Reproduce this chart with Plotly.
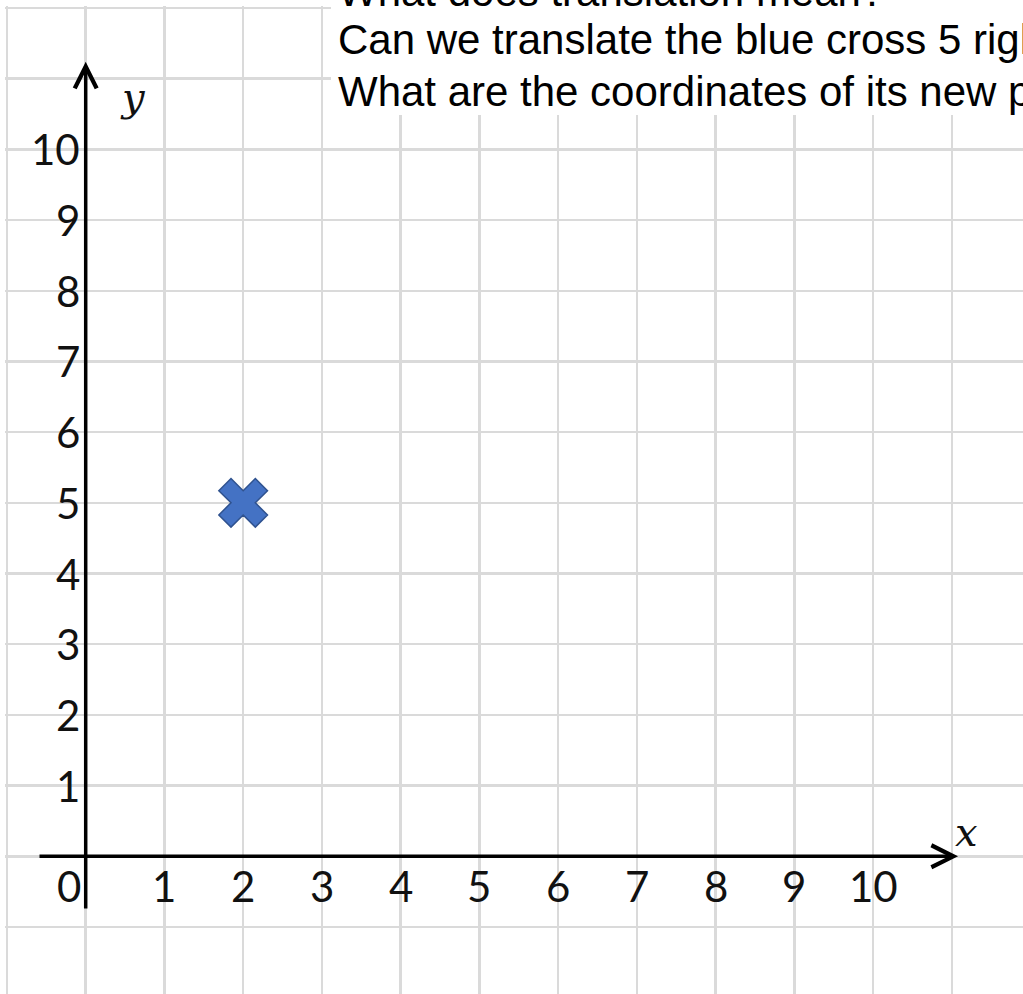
import plotly.graph_objects as go

# ---- data ----
x_tick_values = [1, 2, 3, 4, 5, 6, 7, 8, 9, 10]
y_tick_values = [1, 2, 3, 4, 5, 6, 7, 8, 9, 10]
origin_label = "0"
cross_x = [2]
cross_y = [5]
question_lines = [
    "What does translation mean?",
    "Can we translate the blue cross 5 right?",
    "What are the coordinates of its new position?",
]
x_axis_extent = [-0.606, 11.08]
y_axis_extent = [-0.76, 11.24]

W, H = 1023, 994
ML, MT = 5, 6
x_range = [-1.025, 11.905]
y_range = [-1.948, 12.028]

fig = go.Figure()

fig.add_trace(go.Scatter(
    x=cross_x, y=cross_y, mode="markers",
    marker=dict(symbol="x", size=43, color="#4472C4",
                line=dict(color="#2F528F", width=1.5)),
    hoverinfo="skip", showlegend=False,
))

grid = dict(showgrid=True, gridcolor="#dadada", gridwidth=2.5, dtick=1, tick0=0,
            zeroline=False, showline=False, showticklabels=False, ticks="",
            fixedrange=True)
fig.update_xaxes(range=x_range, **grid)
fig.update_yaxes(range=y_range, **grid)

def py2paper(py):
    return (H - py) / (H - MT)

def px2paper(px):
    return (px - ML) / (W - ML)

# white box behind the question text
fig.add_shape(type="rect", xref="paper", yref="paper",
              x0=px2paper(331), x1=1.05, y0=py2paper(115), y1=1.1,
              fillcolor="white", line=dict(width=0), layer="above")

annotations = []
# axes with arrows
annotations.append(dict(x=x_axis_extent[1], y=0, ax=x_axis_extent[0], ay=0,
                        xref="x", yref="y", axref="x", ayref="y", text="",
                        showarrow=True, arrowhead=5, arrowwidth=3.5, arrowsize=1.23,
                        arrowcolor="black", standoff=0))
annotations.append(dict(x=0, y=y_axis_extent[1], ax=0, ay=y_axis_extent[0],
                        xref="x", yref="y", axref="x", ayref="y", text="",
                        showarrow=True, arrowhead=5, arrowwidth=3.5, arrowsize=1.23,
                        arrowcolor="black", standoff=0))

tick_font = dict(family="Lato", size=42, color="#111111")
for v in x_tick_values:
    annotations.append(dict(x=v, y=0, xref="x", yref="y", text=str(v), showarrow=False,
                            xanchor="center", yanchor="middle", yshift=-30, font=tick_font))
for v in y_tick_values:
    annotations.append(dict(x=0, y=v, xref="x", yref="y", text=str(v), showarrow=False,
                            xanchor="right", yanchor="middle", xshift=-4, font=tick_font))
annotations.append(dict(x=0, y=0, xref="x", yref="y", text=origin_label, showarrow=False,
                        xanchor="right", yanchor="middle", xshift=-3, yshift=-30, font=tick_font))

axis_font = dict(family="DejaVu Serif", size=40, color="#111111")
annotations.append(dict(x=0.60, y=10.74, xref="x", yref="y", text="<i>y</i>", showarrow=False,
                        xanchor="center", yanchor="middle", font=axis_font))
annotations.append(dict(x=11.19, y=0.35, xref="x", yref="y", text="<i>x</i>", showarrow=False,
                        xanchor="center", yanchor="middle", font=axis_font))

q_font = dict(family="Liberation Sans", size=42, color="black")
for line, cy in zip(question_lines, [-8, 39, 92]):
    annotations.append(dict(x=px2paper(336), y=py2paper(cy), xref="paper", yref="paper",
                            text=line, showarrow=False, xanchor="left", yanchor="middle",
                            font=q_font))

fig.update_layout(
    width=W, height=H, autosize=False,
    margin=dict(l=ML, r=0, t=MT, b=0, pad=0),
    paper_bgcolor="white", plot_bgcolor="white",
    annotations=annotations, showlegend=False,
)

fig.write_html("out.html", config={"displayModeBar": False, "staticPlot": True},
               post_script="document.body.style.margin='0';")
